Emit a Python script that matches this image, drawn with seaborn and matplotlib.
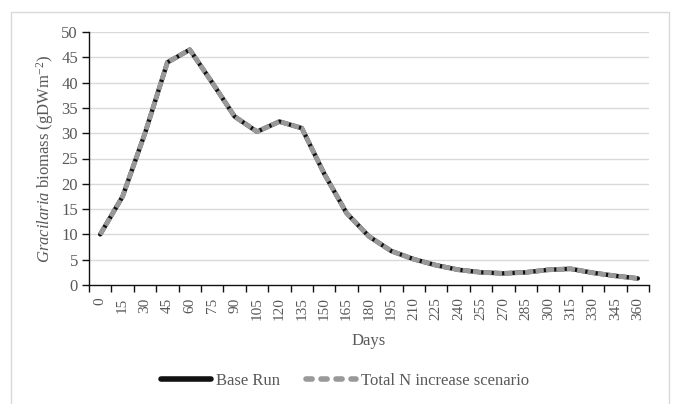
import numpy as np
import pandas as pd
import matplotlib
matplotlib.use("Agg")
import matplotlib.pyplot as plt
import seaborn as sns
from matplotlib.patches import Rectangle

# Simulated Gracilaria biomass over one year (15-day steps)
days = [0, 15, 30, 45, 60, 75, 90, 105, 120, 135, 150, 165, 180,
        195, 210, 225, 240, 255, 270, 285, 300, 315, 330, 345, 360]
base_run = [10.0, 17.5, 30.0, 44.0, 46.5, 40.0, 33.3, 30.3, 32.3, 31.0, 22.0, 14.2, 9.6,
            6.7, 5.1, 3.9, 3.0, 2.5, 2.3, 2.5, 3.0, 3.2, 2.4, 1.8, 1.3]
total_n_increase = [10.0, 17.5, 30.0, 44.0, 46.5, 40.0, 33.3, 30.3, 32.3, 31.0, 22.0, 14.2, 9.6,
                    6.7, 5.1, 3.9, 3.0, 2.5, 2.3, 2.5, 3.0, 3.2, 2.4, 1.8, 1.3]
y_ticks = [0, 5, 10, 15, 20, 25, 30, 35, 40, 45, 50]

sns.set_theme(style="white")
plt.rcParams["font.family"] = ["Liberation Serif", "DejaVu Serif"]
plt.rcParams["mathtext.fontset"] = "custom"
plt.rcParams["mathtext.rm"] = "Liberation Serif"
plt.rcParams["mathtext.it"] = "Liberation Serif:italic"

W, H = 676, 404
fig = plt.figure(figsize=(W / 100, H / 100), dpi=100)
ax = fig.add_axes([89 / W, 1 - 285 / H, (649 - 89) / W, (285 - 32) / H])

# Outer chart frame (runs past the lower edge)
fig.patches.append(Rectangle((11 / W, -5 / H), (669 - 11) / W, (392 + 5) / H,
                             transform=fig.transFigure, fill=False,
                             edgecolor="#d9d9d9", linewidth=1.0))

df = pd.DataFrame({"pos": np.arange(len(days)),
                   "Base Run": base_run,
                   "Total N increase scenario": total_n_increase})

sns.lineplot(data=df, x="pos", y="Base Run", ax=ax, color="#111111",
             linewidth=3.2, label="Base Run", solid_capstyle="round")
sns.lineplot(data=df, x="pos", y="Total N increase scenario", ax=ax, color="#999999",
             linewidth=3.5, label="Total N increase scenario")
ax.lines[1].set_dashes([1.7, 0.45])
ax.lines[1].set_dash_capstyle("butt")

n = len(days)
ax.set_xlim(-0.5, n - 0.5)
ax.set_ylim(0, 50)
ax.set_yticks(y_ticks)
ax.set_xticks(np.arange(n))
ax.set_xticklabels([str(d) for d in days], rotation=90)
ax.set_xticks(np.arange(n + 1) - 0.5, minor=True)

for y in y_ticks[1:]:
    ax.axhline(y, color="#d9d9d9", linewidth=1.0, zorder=0)

for s in ["top", "right"]:
    ax.spines[s].set_visible(False)
for s in ["left", "bottom"]:
    ax.spines[s].set_color("#111111")
    ax.spines[s].set_linewidth(1.0)

ax.tick_params(axis="x", which="major", length=0, pad=9, labelsize=11, labelcolor="#595959")
ax.tick_params(axis="x", which="minor", length=5, width=1.0, color="#111111", direction="out", bottom=True)
ax.tick_params(axis="y", length=5, width=1.0, color="#111111", direction="out", left=True,
               labelsize=12, labelcolor="#595959", pad=3)

ax.set_xlabel("Days", fontsize=12, color="#595959", labelpad=9)
ax.set_ylabel(r"$\it{Gracilaria}$ biomass (gDWm$^{-2}$)", fontsize=12, color="#595959", labelpad=4)

ax_w = (649 - 89) / W
leg = ax.legend(loc="center",
                bbox_to_anchor=((345 / W - 89 / W) / ax_w,
                                (1 - 381 / H - (1 - 285 / H)) / ((285 - 32) / H)),
                ncol=2, frameon=False, fontsize=12, handlelength=3.0, handletextpad=0.3,
                columnspacing=1.6, labelcolor="#595959")
for ln in leg.get_lines():
    ln.set_linewidth(4)
leg.get_lines()[1].set_dashes([1.1, 1.6])
leg.get_lines()[1].set_dash_capstyle("round")

fig.savefig("out.png", dpi=100, facecolor="white")
